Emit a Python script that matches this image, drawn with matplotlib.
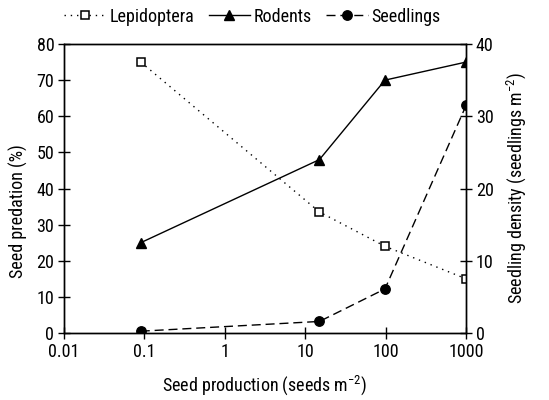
import matplotlib
matplotlib.use('Agg')
import matplotlib.pyplot as plt
from matplotlib.ticker import FixedLocator, NullLocator

# data
production = [0.09, 15, 98, 1000]
lepidoptera = [75, 33.5, 24, 15]
rodents = [25, 48, 70, 75]
seedlings = [0.25, 1.6, 6.1, 31.5]

xticks = [0.01, 0.1, 1, 10, 100, 1000]
xticklabels = ['0.01', '0.1', '1', '10', '100', '1000']

plt.rcParams['font.family'] = ['Roboto Condensed', 'DejaVu Sans']
plt.rcParams['font.size'] = 13
plt.rcParams['mathtext.default'] = 'regular'

fig = plt.figure(figsize=(5.49, 4.0), dpi=100)
ax = fig.add_axes([0.1166, 0.1675, 0.7324, 0.7225])
ax2 = ax.twinx()

l1, = ax.plot(production, lepidoptera, ls=(0, (1, 3.5)), color='black', lw=1,
              marker='s', ms=5.5, mfc='white', mec='black', mew=1.1)
l2, = ax.plot(production, rodents, ls='-', color='black', lw=1,
              marker='^', ms=7.5, mfc='black')
l3, = ax2.plot(production, seedlings, ls=(0, (6.5, 3.5)), color='black', lw=1,
               marker='o', ms=6.8, mfc='black')

ax.set_xscale('log')
ax.set_xlim(0.01, 1000)
ax.xaxis.set_major_locator(FixedLocator(xticks))
ax.xaxis.set_minor_locator(NullLocator())
ax.set_xticklabels(xticklabels)
ax.set_ylim(0, 80)
ax.set_yticks(range(0, 81, 10))
ax2.set_ylim(0, 40)
ax2.set_yticks(range(0, 41, 10))

for a in (ax, ax2):
    a.tick_params(direction='inout', length=8, width=1, labelsize=13, pad=3)
    for s in a.spines.values():
        s.set_linewidth(1)

ax.set_xlabel('Seed production (seeds m$^{\u22122}$)', labelpad=9)
ax.set_ylabel('Seed predation (%)', labelpad=6)
ax.yaxis.label.set_y(0.42)
ax2.set_ylabel('Seedling density (seedlings m$^{\u22122}$)', labelpad=8)

fig.legend([l1, l2, l3], ['Lepidoptera', 'Rodents', 'Seedlings'],
           loc='center', bbox_to_anchor=(0.46, 0.958), ncol=3, frameon=False,
           handlelength=2.3, handletextpad=0.2, columnspacing=0.8)

fig.savefig('out.png', dpi=100)
